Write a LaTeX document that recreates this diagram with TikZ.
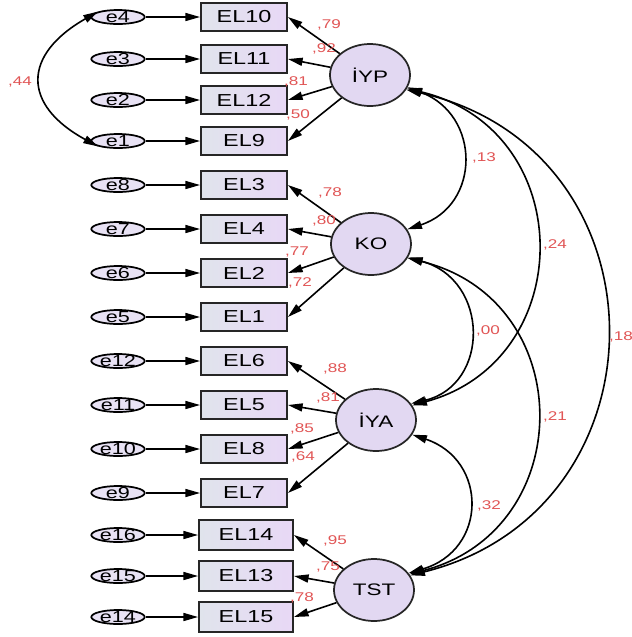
\documentclass[tikz,border=0pt]{standalone}
\usepackage{fontspec}
\setmainfont{Liberation Sans}
\newfontfamily\amos[FakeStretch=1.35]{Liberation Sans}
\usetikzlibrary{arrows.meta,shapes.geometric}
\definecolor{lblred}{RGB}{225,85,85}
\definecolor{lav}{RGB}{226,216,242}
\definecolor{errfill}{RGB}{232,226,244}
\definecolor{boxl}{RGB}{224,228,236}
\definecolor{boxr}{RGB}{232,216,246}
\begin{document}
\begin{tikzpicture}[x=0.75pt,y=-0.75pt,
  tip/.style={-{Triangle[length=11pt,width=6pt]}},
  both/.style={{Triangle[length=11pt,width=6pt]}-{Triangle[length=11pt,width=6pt]}},
  obs/.style={draw=black!85,line width=1.4pt,left color=boxl,right color=boxr,minimum width=64.5pt,minimum height=21pt,inner sep=0pt,font=\amos\fontsize{13}{13}\selectfont},
  obsw/.style={obs,minimum width=70.5pt,minimum height=22.5pt},
  err/.style={ellipse,draw=black,line width=1.3pt,fill=errfill,minimum width=40pt,minimum height=10.5pt,inner xsep=0pt,inner ysep=-2pt,font=\amos\fontsize{12}{12}\selectfont},
  lat/.style={ellipse,draw=black!85,line width=1.3pt,fill=lav,minimum width=60pt,minimum height=46.5pt,inner sep=0pt,font=\amos\fontsize{12.5}{12.5}\selectfont},
  lbl/.style={text=lblred,font=\amos\fontsize{9.5}{9.5}\selectfont,inner sep=0pt},
  conn/.style={line width=1.2pt,black}
]
\useasboundingbox (0,0) rectangle (632,637);
\fill[white] (0,0) rectangle (632,637);

% error terms
\foreach \n/\y in {e4/17,e3/59,e2/100,e1/141,e8/185,e7/229,e6/273,e5/317,e12/361,e11/405,e10/449,e9/493,e16/535,e15/576,e14/617}
  \node[err] (\n) at (118,\y) {\n};

% observed variables
\foreach \n/\y in {EL10/17,EL11/59,EL12/100,EL9/141,EL3/185,EL4/229,EL2/273,EL1/317,EL6/361,EL5/405,EL8/449,EL7/493}
  \node[obs] (\n) at (244,\y) {\n};
\foreach \n/\y in {EL14/535,EL13/576,EL15/617}
  \node[obsw] (\n) at (246,\y) {\n};

% latent variables
\node[lat] (IYP) at (370,75) {İYP};
\node[lat] (KO) at (371,244) {KO};
\node[lat] (IYA) at (376,420) {İYA};
\node[lat] (TST) at (374,590) {TST};

% error -> indicator
\foreach \e/\o in {e4/EL10,e3/EL11,e2/EL12,e1/EL9,e8/EL3,e7/EL4,e6/EL2,e5/EL1,e12/EL6,e11/EL5,e10/EL8,e9/EL7,e16/EL14,e15/EL13,e14/EL15}
  \draw[conn,tip] (\e) -- (\o.west);

% loadings
\foreach \l/\o in {IYP/EL10,IYP/EL11,IYP/EL12,IYP/EL9,KO/EL3,KO/EL4,KO/EL2,KO/EL1,IYA/EL6,IYA/EL5,IYA/EL8,IYA/EL7,TST/EL14,TST/EL13,TST/EL15}
  \draw[conn,tip] (\l) -- (\o.east);

% loading labels
\node[lbl] (l1) at (329,25) {,79};
\node[lbl] (l2) at (324,49) {,92};
\node[lbl] (l3) at (296,82) {,81};
\node[lbl] (l4) at (298,115) {,50};
\node[lbl] (l5) at (330,193) {,78};
\node[lbl] (l6) at (324,221) {,80};
\node[lbl] (l7) at (297,252) {,77};
\node[lbl] (l8) at (300,283) {,72};
\node[lbl] (l9) at (335,369) {,88};
\node[lbl] (l10) at (328,398) {,81};
\node[lbl] (l11) at (302,429) {,85};
\node[lbl] (l12) at (303,457) {,64};
\node[lbl] (l13) at (335,541) {,95};
\node[lbl] (l14) at (328,567) {,75};
\node[lbl] (l15) at (302,598) {,78};

% covariances
\draw[conn,both] (e4.165) .. controls (22,55) and (22,105) .. (e1.-165);
\draw[conn,both] (IYP.-18) .. controls (481,115) and (481,205) .. (KO.22);
\draw[conn,both] (IYP.-20) .. controls (579,130) and (579,360) .. (IYA.22);
\draw[conn,both] (IYP.-22) .. controls (672,150) and (672,510) .. (TST.22);
\draw[conn,both] (KO.-20) .. controls (490,280) and (490,385) .. (IYA.25);
\draw[conn,both] (KO.-21) .. controls (579,300) and (579,530) .. (TST.24);
\draw[conn,both] (IYA.-22) .. controls (488,460) and (488,550) .. (TST.26);

% covariance labels
\node[lbl] (c0) at (20,82) {,44};
\node[lbl] (c1) at (484,158) {,13};
\node[lbl] (c2) at (555,245) {,24};
\node[lbl] (c3) at (621,337) {,18};
\node[lbl] (c4) at (488,331) {,00};
\node[lbl] (c5) at (555,417) {,21};
\node[lbl] (c6) at (489,506) {,32};
\end{tikzpicture}
\end{document}
